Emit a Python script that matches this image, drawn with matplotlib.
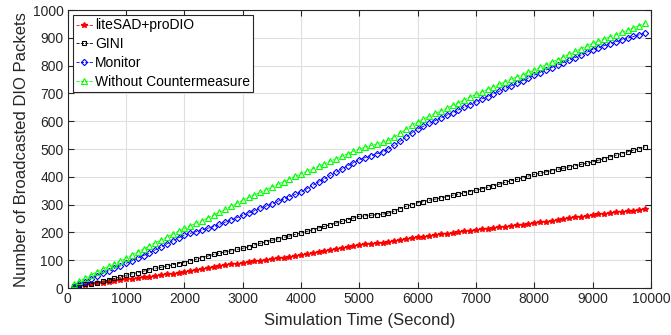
import numpy as np
import matplotlib.pyplot as plt

plt.rcParams['font.family'] = ['Liberation Sans', 'DejaVu Sans']

# simulation time (s), one sample every 100 s
t = np.arange(100, 10000, 100)

without_cm = [14, 25, 36, 47, 59, 69, 78, 88, 98, 107,
              119, 130, 141, 152, 163, 173, 184, 194, 205, 215,
              224, 234, 243, 252, 262, 273, 283, 294, 305, 316,
              326, 335, 344, 354, 363, 373, 383, 393, 402, 411,
              420, 429, 438, 447, 456, 465, 474, 483, 492, 500,
              507, 513, 519, 525, 532, 544, 557, 571, 585, 598,
              608, 618, 628, 637, 647, 657, 667, 677, 687, 697,
              706, 715, 724, 733, 742, 751, 760, 768, 776, 784,
              794, 803, 813, 822, 832, 841, 851, 861, 870, 880,
              888, 896, 904, 912, 920, 928, 936, 944, 952]

monitor = [5, 14, 23, 33, 44, 53, 62, 71, 80, 89,
           98, 108, 117, 127, 137, 148, 159, 170, 181, 191,
           197, 203, 209, 215, 221, 229, 237, 245, 253, 262,
           270, 278, 287, 295, 303, 312, 320, 329, 337, 345,
           357, 369, 381, 393, 405, 416, 428, 440, 451, 462,
           469, 476, 483, 490, 500, 514, 528, 543, 558, 572,
           582, 592, 602, 612, 622, 631, 641, 651, 660, 670,
           680, 689, 699, 708, 718, 727, 736, 746, 756, 766,
           775, 784, 793, 802, 811, 820, 829, 838, 848, 858,
           865, 872, 879, 886, 893, 899, 905, 911, 918]

gini = [6, 10, 13, 16, 19, 24, 29, 35, 40, 46,
        51, 56, 61, 66, 71, 75, 79, 84, 88, 92,
        98, 104, 110, 115, 121, 125, 130, 134, 139, 143,
        149, 155, 161, 167, 172, 177, 182, 187, 193, 198,
        204, 210, 216, 222, 228, 234, 240, 246, 252, 258,
        260, 262, 264, 266, 270, 277, 286, 294, 300, 307,
        311, 316, 320, 325, 329, 334, 338, 343, 347, 352,
        357, 363, 368, 374, 380, 386, 391, 397, 403, 409,
        413, 418, 422, 427, 431, 436, 440, 445, 449, 454,
        460, 466, 472, 478, 484, 490, 496, 502, 508]

litesad = [5, 8, 11, 14, 17, 20, 23, 26, 28, 31,
           34, 36, 39, 41, 44, 47, 50, 52, 55, 58,
           62, 66, 69, 73, 77, 80, 83, 85, 88, 91,
           93, 96, 99, 102, 105, 107, 110, 113, 115, 118,
           121, 125, 129, 133, 136, 140, 144, 147, 151, 155,
           157, 159, 161, 162, 165, 169, 172, 175, 179, 182,
           185, 188, 190, 193, 196, 199, 201, 204, 207, 209,
           212, 214, 217, 219, 221, 223, 226, 228, 231, 233,
           236, 239, 242, 245, 248, 251, 254, 257, 260, 263,
           265, 268, 270, 272, 275, 277, 279, 282, 284]

fig = plt.figure(figsize=(6.71, 3.35), dpi=100)
ax = fig.add_axes([0.101, 0.140, 0.869, 0.830])

ax.plot(t, litesad, '--*', color='r', lw=0.6, ms=4.2, label='liteSAD+proDIO')
ax.plot(t, gini, '--s', color='k', lw=0.6, ms=3.3, mfc='none', mew=0.8, label='GINI')
ax.plot(t, monitor, '--D', color='b', lw=0.6, ms=3.2, mfc='none', mew=0.8, label='Monitor')
ax.plot(t, without_cm, '--^', color=(0, 1, 0), lw=0.6, ms=4.3, mfc='none', mew=0.8,
        label='Without Countermeasure')

ax.set_xlim(0, 10000)
ax.set_ylim(0, 1000)
ax.set_xticks(np.arange(0, 10001, 1000))
ax.set_yticks(np.arange(0, 1001, 100))
ax.grid(True, color='#dfdfdf', lw=0.8)
ax.set_axisbelow(True)
ax.tick_params(direction='in', top=True, right=True, labelsize=10, colors='#262626',
               length=4, pad=3)
for s in ax.spines.values():
    s.set_color('#262626')
    s.set_linewidth(0.8)

ax.set_xlabel('Simulation Time (Second)', fontsize=12, color='#262626', labelpad=5)
ax.set_ylabel('Number of Broadcasted DIO Packets', fontsize=12, color='#262626', labelpad=3)

leg = ax.legend(loc='upper left', fontsize=10, handlelength=1.2, handletextpad=0.15,
                borderpad=0.25, labelspacing=0.35, fancybox=False, framealpha=1,
                borderaxespad=0.35)
leg.get_frame().set_edgecolor('#262626')
leg.get_frame().set_linewidth(0.8)

fig.savefig('out.png', dpi=100)
